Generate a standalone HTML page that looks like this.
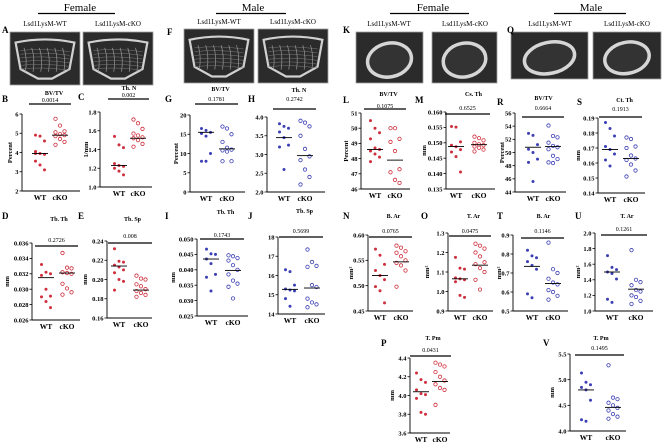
<!DOCTYPE html>
<html><head><meta charset="utf-8"><style>
html,body{margin:0;padding:0;background:#fff;}
svg{display:block;font-family:"Liberation Serif",serif;}
</style></head><body>
<svg id="fig" width="666" height="444" viewBox="0 0 666 444">
<g id="headers" font-size="11">
 <text x="80" y="11" text-anchor="middle">Female</text>
 <line x1="38" y1="13.5" x2="115" y2="13.5" stroke="#000" stroke-width="1.2"/>
 <text x="253" y="11" text-anchor="middle">Male</text>
 <line x1="216" y1="13.5" x2="286" y2="13.5" stroke="#000" stroke-width="1.2"/>
 <text x="433" y="11" text-anchor="middle">Female</text>
 <line x1="390" y1="13.5" x2="469" y2="13.5" stroke="#000" stroke-width="1.2"/>
 <text x="591" y="11" text-anchor="middle">Male</text>
 <line x1="554" y1="13.5" x2="626" y2="13.5" stroke="#000" stroke-width="1.2"/>
</g>
<g font-size="7">
 <text x="45" y="26" text-anchor="middle">Lsd1LysM-WT</text>
 <text x="118" y="26" text-anchor="middle">Lsd1LysM-cKO</text>
 <text x="219" y="24" text-anchor="middle">Lsd1LysM-WT</text>
 <text x="293" y="24" text-anchor="middle">Lsd1LysM-cKO</text>
 <text x="389" y="26" text-anchor="middle">Lsd1LysM-WT</text>
 <text x="465" y="26" text-anchor="middle">Lsd1LysM-cKO</text>
 <text x="550" y="26" text-anchor="middle">Lsd1LysM-WT</text>
 <text x="627" y="26" text-anchor="middle">Lsd1LysM-cKO</text>
</g>
<g id="images"></g>
<g id="panels"></g>
</svg>
<script>
// ---------- data ----------
const groups = ["WT","cKO"];
const bWT=[4.9,4.85,4.6,4.05,3.95,3.9,3.55,3.35,3.1,3.95], bKO=[5.75,5.4,5.1,5.05,4.95,4.9,4.85,4.7,4.55,4.4];
const cWT=[1.54,1.45,1.42,1.25,1.23,1.22,1.2,1.17,1.13], cKO=[1.72,1.68,1.62,1.57,1.55,1.53,1.52,1.5,1.46,1.43];
const gWT=[16.5,16,15.5,15.2,14.5,10,8,8], gKO=[17,16.5,15,13,11.5,11,10.8,10.5,8,8];
const hWT=[3.82,3.75,3.7,3.6,3.45,3.25,3.2,2.6], hKO=[3.9,3.85,3.75,3.5,3.15,2.95,2.85,2.6,2.4,2.2];
const dWT=[0.0332,0.0322,0.032,0.0318,0.03,0.0291,0.029,0.0284,0.0276], dKO=[0.0347,0.0328,0.0327,0.0322,0.0321,0.032,0.0307,0.0301,0.0296,0.0293];
const eWT=[0.232,0.219,0.218,0.215,0.213,0.21,0.207,0.2,0.198,0.189], eKO=[0.204,0.201,0.2,0.195,0.193,0.19,0.188,0.186,0.184,0.182];
const iWT=[0.0467,0.0452,0.045,0.0435,0.042,0.0385,0.0376,0.0331], iKO=[0.0447,0.0444,0.0438,0.043,0.0415,0.04,0.0385,0.0365,0.0355,0.0345,0.0307];
const jWT=[16.3,16.2,15.5,15.3,15.25,15.2,14.8,14.4], jKO=[17.35,16.7,16.5,16.45,15.5,15.4,14.8,14.6,14.5,14.35];
const lWT=[50.5,50,49.7,49.3,48.7,48.6,48.5,48.3,48.1,47.8], lKO=[50,50,49.3,49.1,48.5,47.3,47.1,46.6,46.4];
const mWT=[0.1553,0.1551,0.1503,0.1492,0.1487,0.1478,0.147,0.1455,0.1405], mKO=[0.152,0.1515,0.1508,0.15,0.1495,0.1492,0.1488,0.1484,0.1478,0.1472];
const rWT=[52.9,52.6,51.2,50.5,50,49,48.5,45.6], rKO=[54.1,52.5,52.3,51.5,51,50.8,50.5,49.5,49,48.5,48.4];
const sWT=[0.187,0.183,0.178,0.171,0.169,0.166,0.162,0.158], sKO=[0.177,0.176,0.171,0.17,0.165,0.163,0.162,0.159,0.155,0.151];
const nWT=[0.572,0.56,0.542,0.53,0.52,0.512,0.498,0.49,0.466], nKO=[0.579,0.575,0.568,0.565,0.558,0.55,0.545,0.54,0.53,0.498];
const oWT=[1.175,1.12,1.115,1.07,1.065,1.06,1.05,0.98,0.97], oKO=[1.245,1.235,1.22,1.2,1.18,1.15,1.14,1.12,1.1,1.06,1.01];
const tWT=[0.82,0.79,0.78,0.76,0.74,0.72,0.59,0.57], tKO=[0.86,0.72,0.7,0.67,0.65,0.64,0.61,0.6,0.58,0.56];
const uWT=[1.71,1.56,1.53,1.5,1.48,1.41,1.15,1.11], uKO=[1.78,1.4,1.37,1.33,1.27,1.25,1.2,1.18,1.13,1.09];
const pWT=[4.24,4.17,4.14,4.06,4.02,4.01,3.97,3.82,3.8], pKO=[4.35,4.33,4.31,4.25,4.2,4.16,4.12,4.08,4.06,3.9];
const vWT=[5.13,4.95,4.9,4.85,4.8,4.6,4.22,4.19], vKO=[5.28,4.65,4.62,4.55,4.5,4.45,4.4,4.33,4.28,4.24];
const medians = {B:[3.95,4.9],C:[1.23,1.52],G:[15.5,11.2],H:[3.45,2.97],D:[0.0315,0.0321],E:[0.214,0.189],I:[0.0435,0.0398],J:[15.28,15.35],L:[48.6,47.9],M:[0.1488,0.1494],R:[50.8,50.9],S:[0.169,0.163],N:[0.52,0.547],O:[1.065,1.135],T:[0.735,0.645],U:[1.5,1.28],P:[4.04,4.15],V:[4.8,4.46]};
const pvals = {B:"0.0014",C:"0.002",G:"0.1781",H:"0.2742",D:"0.2726",E:"0.008",I:"0.1743",J:"0.5699",L:"0.1075",M:"0.6525",R:"0.6664",S:"0.1913",N:"0.0765",O:"0.0475",T:"0.1146",U:"0.1261",P:"0.0431",V:"0.1495"};
const tickB=["2","3","4","5","6"], tickC=["1.0","1.2","1.4","1.6","1.8"], tickG=["0","5","10","15","20"], tickH=["2.0","2.5","3.0","3.5","4.0"];
const tickD=["0.026","0.028","0.030","0.032","0.034","0.036"], tickE=["0.16","0.18","0.20","0.22","0.24"], tickI=["0.025","0.030","0.035","0.040","0.045","0.050"], tickJ=["14","15","16","17","18"];
const tickL=["46","47","48","49","50","51"], tickM=["0.135","0.140","0.145","0.150","0.155","0.160"], tickR=["44","46","48","50","52","54","56"], tickS=["0.14","0.15","0.16","0.17","0.18","0.19"];
const tickN=["0.45","0.50","0.55","0.60"], tickO=["0.9","1.0","1.1","1.2","1.3"], tickT=["0.5","0.6","0.7","0.8","0.9"], tickU=["1.0","1.2","1.4","1.6","1.8","2.0"];
const tickP=["3.6","3.8","4.0","4.2","4.4"], tickV=["4.0","4.5","5.0","5.5"];

// ---------- layout (pixel geometry only) ----------
const RED="#cf2f3c", BLUE="#3c3fb4";
const panels=[
 {id:"B",wt:bWT,ko:bKO,ticks:tickB,ax:22,right:80,yt:114,yb:191,xw:40,xk:60,col:RED,title:"BV/TV",ty:95,py:102,by:104,lx:2,ly:102,yl:"Percent",ylx:8},
 {id:"C",wt:cWT,ko:cKO,ticks:tickC,ax:100,right:152,yt:112,yb:187,xw:119,xk:138,col:RED,title:"Th. N",ty:90,py:97,by:99,lx:78,ly:100,yl:"1/mm",ylx:84},
 {id:"G",wt:gWT,ko:gKO,ticks:tickG,ax:190,right:245,yt:115,yb:192,xw:206,xk:227,col:BLUE,title:"BV/TV",ty:91,py:101,by:104,lx:165,ly:102,yl:"Percent",ylx:174},
 {id:"H",wt:hWT,ko:hKO,ticks:tickH,ax:267,right:325,yt:117,yb:192,xw:284,xk:305,col:BLUE,title:"Th. N",ty:92,py:101,by:109,lx:248,ly:102,yl:"",ylx:0},
 {id:"D",wt:dWT,ko:dKO,ticks:tickD,ax:32,right:80,yt:243,yb:320,xw:46,xk:67,col:RED,title:"Tb. Th",ty:221,py:242,by:246,lx:2,ly:219,yl:"mm",ylx:5},
 {id:"E",wt:eWT,ko:eKO,ticks:tickE,ax:107,right:152,yt:241,yb:318,xw:119,xk:141,col:RED,title:"Tb. Sp",ty:221,py:238,by:243,lx:78,ly:219,yl:"mm",ylx:83},
 {id:"I",wt:iWT,ko:iKO,ticks:tickI,ax:197,right:248,yt:239,yb:316,xw:211,xk:233,col:BLUE,title:"Tb. Th",ty:214,py:237,by:239,lx:165,ly:219,yl:"mm",ylx:171},
 {id:"J",wt:jWT,ko:jKO,ticks:tickJ,ax:278,right:325,yt:237,yb:314,xw:290,xk:312,col:BLUE,title:"Tb. Sp",ty:213,py:233,by:237,lx:248,ly:219,yl:"",ylx:0},
 {id:"L",wt:lWT,ko:lKO,ticks:tickL,ax:361,right:410,yt:113,yb:189,xw:375,xk:395,col:RED,title:"BV/TV",ty:96,py:108,by:109,lx:343,ly:103,yl:"Percent",ylx:344},
 {id:"M",wt:mWT,ko:mKO,ticks:tickM,ax:446,right:495,yt:112,yb:189,xw:456,xk:479,col:RED,title:"Cs. Th",ty:96,py:110,by:114,lx:415,ly:103,yl:"mm",ylx:422},
 {id:"R",wt:rWT,ko:rKO,ticks:tickR,ax:515,right:566,yt:113,yb:192,xw:533,xk:553,col:BLUE,title:"BV/TV",ty:100,py:110,by:117,lx:497,ly:105,yl:"Percent",ylx:500},
 {id:"S",wt:sWT,ko:sKO,ticks:tickS,ax:598,right:645,yt:118,yb:193,xw:610,xk:631,col:BLUE,title:"Ct. Th",ty:102,py:111,by:117,lx:577,ly:105,yl:"mm",ylx:576},
 {id:"N",wt:nWT,ko:nKO,ticks:tickN,ax:368,right:413,yt:235,yb:311,xw:380,xk:401,col:RED,title:"B. Ar",ty:218,py:233,by:237,lx:343,ly:219,yl:"mm²",ylx:349},
 {id:"O",wt:oWT,ko:oKO,ticks:tickO,ax:448,right:493,yt:233,yb:311,xw:460,xk:480,col:RED,title:"T. Ar",ty:218,py:233,by:236,lx:421,ly:219,yl:"mm²",ylx:425},
 {id:"T",wt:tWT,ko:tKO,ticks:tickT,ax:513,right:568,yt:235,yb:311,xw:532,xk:553,col:BLUE,title:"B. Ar",ty:218,py:233,by:238,lx:497,ly:219,yl:"mm²",ylx:497},
 {id:"U",wt:uWT,ko:uKO,ticks:tickU,ax:595,right:653,yt:233,yb:311,xw:612,xk:636,col:BLUE,title:"T. Ar",ty:218,py:231,by:235,lx:575,ly:219,yl:"mm²",ylx:576},
 {id:"P",wt:pWT,ko:pKO,ticks:tickP,ax:410,right:450,yt:358,yb:433,xw:421,xk:440,col:RED,title:"T. Pm",ty:340,py:352,by:356,lx:381,ly:346,yl:"mm",ylx:390},
 {id:"V",wt:vWT,ko:vKO,ticks:tickV,ax:570,right:626,yt:354,yb:431,xw:586,xk:613,col:BLUE,title:"T. Pm",ty:340,py:350,by:355,lx:543,ly:346,yl:"mm",ylx:550}
];

const NS="http://www.w3.org/2000/svg";
function mk(tag,attrs,parent,txt){const e=document.createElementNS(NS,tag);for(const k in attrs)e.setAttribute(k,attrs[k]);if(txt!==undefined)e.textContent=txt;parent.appendChild(e);return e;}

// micro-CT images
const imgs=document.getElementById("images");
function boneImg(x,y,w,h,type,name){
  const g=mk("g",{},imgs);
  
  
  mk("rect",{x:x,y:y,width:w,height:h,fill:"#2b2b2b",stroke:"#a0a0a0","stroke-width":0.8},g);
  if(type==="trab"){
    const p=`M${x+w*0.08},${y+h*0.2} Q${x+w*0.5},${y+h*0.08} ${x+w*0.92},${y+h*0.2} L${x+w*0.85},${y+h*0.7} L${x+w*0.6},${y+h*0.88} L${x+w*0.4},${y+h*0.88} L${x+w*0.15},${y+h*0.7} Z`;
    mk("path",{d:p,fill:"none",stroke:"#d0d0d0","stroke-width":2.2},g);
    for(let i=0;i<6;i++){mk("path",{d:`M${x+w*(0.2+i*0.11)},${y+h*0.3} q${w*0.05},${h*0.2} ${w*0.02},${h*0.45}`,fill:"none",stroke:"#9a9a9a","stroke-width":0.7},g);
      mk("path",{d:`M${x+w*0.15},${y+h*(0.35+i*0.07)} q${w*0.3},${-h*0.05} ${w*0.7},${h*0.02}`,fill:"none",stroke:"#7a7a7a","stroke-width":0.5},g);}
  } else {
    mk("ellipse",{cx:x+w*0.5,cy:y+h*0.55,rx:w*0.33,ry:h*0.33,fill:"#333",stroke:"#d6d6d6","stroke-width":3.5,transform:`rotate(-12 ${x+w*0.5} ${y+h*0.55})`},g);
  }
}
boneImg(10,32,70,53,"trab","image-a-wt");boneImg(83,32,70,53,"trab","image-a-cko");
boneImg(184,29,70,54,"trab","image-f-wt");boneImg(258,29,70,54,"trab","image-f-cko");
boneImg(356,32,67,51,"ring","image-k-wt");boneImg(432,32,65,51,"ring","image-k-cko");
boneImg(511,32,77,47,"ring","image-q-wt");boneImg(593,32,68,47,"ring","image-q-cko");

const letters=[["A",2,33],["F",167,35],["K",343,33],["Q",507,33]];
letters.forEach(l=>{const t=mk("text",{x:l[1],y:l[2],"font-size":9,"font-weight":"bold"},document.getElementById("fig"),l[0]);

});

const root=document.getElementById("panels");
panels.forEach(P=>{
  const id=P.id.toLowerCase();
  const g=mk("g",{},root);
  
  
  const vmin=parseFloat(P.ticks[0]), vmax=parseFloat(P.ticks[P.ticks.length-1]);
  const y=v=>P.yb-(v-vmin)/(vmax-vmin)*(P.yb-P.yt);
  const xg=i=>i===0?P.xw:P.xk;
  const L=mk("text",{x:P.lx,y:P.ly,"font-size":9,"font-weight":"bold"},g,P.id);
  
  
  const T=mk("text",{x:(P.ax+P.right)/2+3,y:P.ty,"font-size":6,"font-weight":"bold","text-anchor":"middle"},g,P.title);
  
  
  const ya=mk("line",{x1:P.ax,y1:P.yt,x2:P.ax,y2:P.yb,stroke:"#000","stroke-width":0.9},g);
  
  
  const xa=mk("line",{x1:P.ax,y1:P.yb,x2:P.right,y2:P.yb,stroke:"#000","stroke-width":0.9},g);
  
  
  P.ticks.forEach(tl=>{
    const v=parseFloat(tl), yy=y(v);
    const tk=mk("line",{x1:P.ax-2.5,y1:yy,x2:P.ax,y2:yy,stroke:"#000","stroke-width":0.8},g);
    
    
    const tt=mk("text",{x:P.ax-3.5,y:yy+2.3,"font-size":6.5,"font-weight":"bold","text-anchor":"end"},g,tl);
    
    
  });
  groups.forEach((gn,i)=>{
    const xl=mk("text",{x:xg(i),y:P.yb+9,"font-size":7.5,"font-weight":"bold","text-anchor":"middle"},g,gn);
    
    
  });
  if(P.yl){
    const yl=mk("text",{x:P.ylx+4,y:(P.yt+P.yb)/2,"font-size":6.5,"font-weight":"bold","text-anchor":"middle",transform:`rotate(-90 ${P.ylx+4} ${(P.yt+P.yb)/2})`},g,P.yl);
    
    
  }
  const pb=mk("line",{x1:P.xw-11,y1:P.by,x2:P.xk+11,y2:P.by,stroke:"#000","stroke-width":1.2},g);
  
  
  const pt=mk("text",{x:(P.xw+P.xk)/2,y:P.py,"font-size":6,"text-anchor":"middle"},g,pvals[P.id]);
  
  
  [P.wt,P.ko].forEach((arr,gi)=>{
    arr.forEach((v,k)=>{
      const off=((k%3)-1)*4.5;
      let c;
      if(gi===0){c=mk("circle",{cx:xg(0)+off,cy:y(v),r:1.5,fill:P.col},g);}
      else {c=mk("circle",{cx:xg(1)+off,cy:y(v),r:1.7,fill:"none",stroke:P.col,"stroke-width":0.8},g);}
      
      
    });
    const m=medians[P.id][gi];
    const ml=mk("line",{x1:xg(gi)-8,y1:y(m),x2:xg(gi)+8,y2:y(m),stroke:"#000","stroke-width":0.9},g);
    
    
  });
});
</script>
</body></html>
